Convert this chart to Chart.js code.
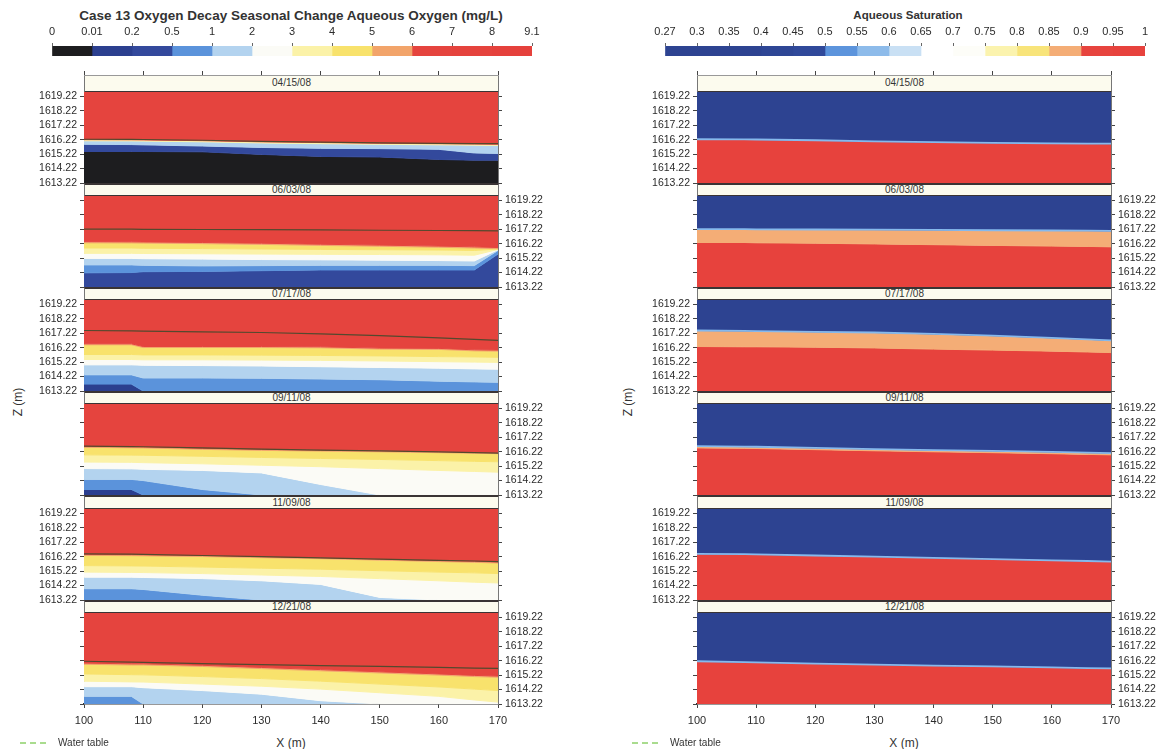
<!DOCTYPE html>
<html>
<head>
<meta charset="utf-8">
<script src="https://cdn.jsdelivr.net/npm/chart.js@4.4.1/dist/chart.umd.min.js"></script>
<style>
  body { margin: 0; background: #fff; }
  #page { position: relative; width: 1165px; height: 749px; overflow: hidden; font-family: 'Liberation Sans', Arial, sans-serif; color: #333; }
  #page canvas, #page .lbl, #page .strip { position: absolute; }
  .lbl { white-space: nowrap; }
  .strip { box-sizing: border-box; background: #fcfbee; border-left: 1px solid #777; border-right: 1px solid #777;
           border-top: 2px solid #3a3434; border-bottom: 2px solid #3a3434; text-align: center; font-size: 10px; color: #333; }
</style>
</head>
<body>
<div id="page"></div>
<script>
// sample positions along X (m) used for all layer boundaries
const X_POS = [100, 108, 110, 120, 130, 140, 150, 160, 166, 170];
const X_TICKS = [100, 110, 120, 130, 140, 150, 160, 170];
const Z_TICKS = [1613.22, 1614.22, 1615.22, 1616.22, 1617.22, 1618.22, 1619.22];
const ZMIN = 1613.22, ZMAX = 1619.52;
const DATES = ['04/15/08', '06/03/08', '07/17/08', '09/11/08', '11/09/08', '12/21/08'];

// colour scales
const O2_TICKS = ['0', '0.01', '0.2', '0.5', '1', '2', '3', '4', '5', '6', '7', '8', '9.1'];
const O2_COLORS = ['#1d1d1f', '#2b3f8f', '#33499c', '#5b93db', '#b3d3ef', '#fbfbf6',
                   '#fbf2a8', '#f8e26c', '#f2a46a', '#e5443e', '#e5433d', '#e5413c'];
const SAT_TICKS = ['0.27', '0.3', '0.35', '0.4', '0.45', '0.5', '0.55', '0.6', '0.65', '0.7',
                   '0.75', '0.8', '0.85', '0.9', '0.95', '1'];
const SAT_COLORS = ['#2d4391', '#2d4391', '#2d4391', '#2e4695', '#30499a', '#5c94dc', '#8dbbea',
                    '#c9e0f4', '#ffffff', '#fdfdf8', '#fbf3ae', '#f8e47a', '#f4ad76', '#e7443e', '#e7423d'];

// water table elevation per date
const WT_0415 = [1616.25, 1616.24, 1616.23, 1616.18, 1616.1, 1616.05, 1616.0, 1615.97, 1615.95, 1615.94];
const WT_0603 = [1617.22, 1617.22, 1617.21, 1617.2, 1617.19, 1617.17, 1617.15, 1617.13, 1617.12, 1617.1];
const WT_0717 = [1617.41, 1617.38, 1617.37, 1617.32, 1617.27, 1617.17, 1617.05, 1616.9, 1616.8, 1616.72];
const WT_0911 = [1616.6, 1616.57, 1616.56, 1616.48, 1616.4, 1616.33, 1616.27, 1616.2, 1616.15, 1616.12];
const WT_1109 = [1616.42, 1616.4, 1616.38, 1616.3, 1616.22, 1616.14, 1616.05, 1615.97, 1615.92, 1615.88];
const WT_1221 = [1616.18, 1616.12, 1616.1, 1616.02, 1615.95, 1615.88, 1615.82, 1615.75, 1615.7, 1615.68];

// aqueous oxygen: class of each layer (top to bottom) and the boundaries between them
const O2_0415_BANDS = [9, 6, 4, 2, 0];
const O2_0415_EDGES = [
  [1616.22, 1616.21, 1616.2, 1616.15, 1616.07, 1616.02, 1615.97, 1615.94, 1615.92, 1615.9],
  [1616.14, 1616.13, 1616.12, 1616.07, 1615.99, 1615.94, 1615.9, 1615.86, 1615.84, 1615.82],
  [1615.9, 1615.88, 1615.86, 1615.78, 1615.68, 1615.62, 1615.6, 1615.55, 1615.3, 1615.27],
  [1615.4, 1615.4, 1615.4, 1615.38, 1615.2, 1615.06, 1615.02, 1614.85, 1614.8, 1614.8]
];
const O2_0603_BANDS = [9, 8, 7, 6, 5, 4, 3, 2];
const O2_0603_EDGES = [
  [1616.36, 1616.35, 1616.34, 1616.3, 1616.25, 1616.18, 1616.12, 1616.05, 1616.0, 1615.95],
  [1616.28, 1616.27, 1616.26, 1616.22, 1616.17, 1616.1, 1616.04, 1615.97, 1615.92, 1615.87],
  [1615.92, 1615.92, 1615.9, 1615.88, 1615.85, 1615.82, 1615.8, 1615.78, 1615.75, 1615.85],
  [1615.55, 1615.55, 1615.54, 1615.52, 1615.5, 1615.48, 1615.47, 1615.45, 1615.42, 1615.82],
  [1615.2, 1615.2, 1615.18, 1615.15, 1615.12, 1615.1, 1615.08, 1615.05, 1615.02, 1615.8],
  [1614.75, 1614.75, 1614.72, 1614.68, 1614.7, 1614.72, 1614.72, 1614.72, 1614.7, 1615.75],
  [1614.2, 1614.22, 1614.28, 1614.3, 1614.35, 1614.4, 1614.4, 1614.4, 1614.4, 1615.5]
];
const O2_0717_BANDS = [9, 8, 7, 6, 5, 4, 3, 1];
const O2_0717_EDGES = [
  [1616.49, 1616.49, 1616.3, 1616.3, 1616.3, 1616.28, 1616.19, 1616.17, 1616.07, 1616.05],
  [1616.42, 1616.42, 1616.23, 1616.23, 1616.23, 1616.21, 1616.12, 1616.1, 1616.0, 1615.98],
  [1615.75, 1615.75, 1615.72, 1615.72, 1615.7, 1615.68, 1615.65, 1615.6, 1615.58, 1615.55],
  [1615.4, 1615.4, 1615.38, 1615.38, 1615.36, 1615.34, 1615.3, 1615.25, 1615.22, 1615.2],
  [1615.03, 1615.03, 1615.0, 1614.98, 1614.95, 1614.9, 1614.85, 1614.8, 1614.75, 1614.73],
  [1614.34, 1614.34, 1614.12, 1614.12, 1614.1, 1614.05, 1614.0, 1613.9, 1613.85, 1613.82],
  [1613.7, 1613.7, 1613.22, 1613.22, 1613.22, 1613.22, 1613.22, 1613.22, 1613.22, 1613.22]
];
const O2_0911_BANDS = [9, 8, 7, 6, 5, 4, 3, 1];
const O2_0911_EDGES = [
  [1616.59, 1616.56, 1616.55, 1616.45, 1616.38, 1616.33, 1616.28, 1616.22, 1616.18, 1616.15],
  [1616.52, 1616.49, 1616.48, 1616.38, 1616.31, 1616.26, 1616.21, 1616.15, 1616.11, 1616.08],
  [1616.0, 1615.98, 1615.97, 1615.9, 1615.82, 1615.75, 1615.68, 1615.6, 1615.55, 1615.52],
  [1615.5, 1615.48, 1615.46, 1615.38, 1615.28, 1615.18, 1615.05, 1614.92, 1614.85, 1614.8],
  [1615.05, 1615.03, 1615.0, 1614.92, 1614.75, 1613.95, 1613.22, 1613.22, 1613.22, 1613.22],
  [1614.3, 1614.3, 1614.22, 1613.6, 1613.22, 1613.22, 1613.22, 1613.22, 1613.22, 1613.22],
  [1613.6, 1613.6, 1613.22, 1613.22, 1613.22, 1613.22, 1613.22, 1613.22, 1613.22, 1613.22]
];
const O2_1109_BANDS = [9, 8, 7, 6, 5, 4, 3];
const O2_1109_EDGES = [
  [1616.38, 1616.36, 1616.35, 1616.3, 1616.22, 1616.15, 1616.05, 1615.95, 1615.9, 1615.85],
  [1616.31, 1616.29, 1616.28, 1616.23, 1616.15, 1616.08, 1615.98, 1615.88, 1615.83, 1615.78],
  [1615.6, 1615.58, 1615.57, 1615.5, 1615.42, 1615.35, 1615.25, 1615.15, 1615.1, 1615.05],
  [1615.15, 1615.13, 1615.12, 1615.05, 1614.95, 1614.85, 1614.7, 1614.55, 1614.45, 1614.4],
  [1614.8, 1614.8, 1614.78, 1614.7, 1614.55, 1614.3, 1613.4, 1613.22, 1613.22, 1613.22],
  [1614.0, 1614.0, 1613.95, 1613.55, 1613.22, 1613.22, 1613.22, 1613.22, 1613.22, 1613.22]
];
const O2_1221_BANDS = [9, 8, 7, 6, 5, 4, 3];
const O2_1221_EDGES = [
  [1616.05, 1616.0, 1616.0, 1615.9, 1615.75, 1615.6, 1615.45, 1615.3, 1615.2, 1615.15],
  [1615.97, 1615.92, 1615.92, 1615.82, 1615.67, 1615.52, 1615.37, 1615.22, 1615.12, 1615.07],
  [1615.3, 1615.25, 1615.24, 1615.12, 1614.98, 1614.8, 1614.6, 1614.4, 1614.25, 1614.15],
  [1614.8, 1614.75, 1614.74, 1614.6, 1614.45, 1614.25, 1614.0, 1613.75, 1613.5, 1613.35],
  [1614.42, 1614.42, 1614.35, 1614.15, 1613.9, 1613.45, 1613.22, 1613.22, 1613.22, 1613.22],
  [1613.75, 1613.75, 1613.22, 1613.22, 1613.22, 1613.22, 1613.22, 1613.22, 1613.22, 1613.22]
];

// aqueous saturation layers
const SAT_0415_BANDS = [0, 14];
const SAT_0415_EDGES = [WT_0415];
const SAT_0603_BANDS = [0, 12, 14];
const SAT_0603_EDGES = [WT_0603,
  [1616.3, 1616.3, 1616.28, 1616.25, 1616.2, 1616.15, 1616.1, 1616.05, 1616.03, 1616.0]];
const SAT_0717_BANDS = [0, 12, 14];
const SAT_0717_EDGES = [WT_0717,
  [1616.3, 1616.28, 1616.28, 1616.25, 1616.2, 1616.12, 1616.05, 1615.98, 1615.92, 1615.88]];
const SAT_0911_BANDS = [0, 12, 14];
const SAT_0911_EDGES = [WT_0911,
  [1616.48, 1616.45, 1616.44, 1616.36, 1616.28, 1616.21, 1616.15, 1616.08, 1616.03, 1616.0]];
const SAT_1109_BANDS = [0, 14];
const SAT_1109_EDGES = [WT_1109];
const SAT_1221_BANDS = [0, 14];
const SAT_1221_EDGES = [WT_1221];

const WATER_TABLES = [WT_0415, WT_0603, WT_0717, WT_0911, WT_1109, WT_1221];
const O2_LAYERS = [
  [O2_0415_EDGES, O2_0415_BANDS], [O2_0603_EDGES, O2_0603_BANDS], [O2_0717_EDGES, O2_0717_BANDS],
  [O2_0911_EDGES, O2_0911_BANDS], [O2_1109_EDGES, O2_1109_BANDS], [O2_1221_EDGES, O2_1221_BANDS]
];
const SAT_LAYERS = [
  [SAT_0415_EDGES, SAT_0415_BANDS], [SAT_0603_EDGES, SAT_0603_BANDS], [SAT_0717_EDGES, SAT_0717_BANDS],
  [SAT_0911_EDGES, SAT_0911_BANDS], [SAT_1109_EDGES, SAT_1109_BANDS], [SAT_1221_EDGES, SAT_1221_BANDS]
];

// page layout
const PLOT_W = 414, PLOT_H = 91;
const PLOT_TOPS = [92, 196, 300, 404, 509, 613];
const AXIS_TOP = 75;

Chart.defaults.font.family = "'Liberation Sans', Arial, sans-serif";
Chart.defaults.color = '#2b2b2b';
Chart.defaults.animation = false;

const page = document.getElementById('page');

function addLabel(text, left, top, css) {
  const el = document.createElement('div');
  el.className = 'lbl';
  el.textContent = text;
  el.style.left = left + 'px';
  el.style.top = top + 'px';
  Object.assign(el.style, css || {});
  page.appendChild(el);
  return el;
}

function addCanvas(left, top, width, height) {
  const c = document.createElement('canvas');
  c.width = width;
  c.height = height;
  c.style.left = left + 'px';
  c.style.top = top + 'px';
  c.style.width = width + 'px';
  c.style.height = height + 'px';
  page.appendChild(c);
  return c;
}

function toPoints(values) {
  return X_POS.map((x, k) => ({ x: x, y: values[k] }));
}

function zAxis(position, showLabels) {
  return {
    type: 'linear',
    position: position,
    min: ZMIN,
    max: ZMAX,
    afterBuildTicks: s => { s.ticks = Z_TICKS.map(v => ({ value: v })); },
    afterFit: s => { s.width = 50; s.paddingTop = 0; s.paddingBottom = 0; },
    ticks: {
      autoSkip: false,
      padding: 3,
      font: { size: 10.5 },
      callback: v => showLabels ? v.toFixed(2) : ''
    },
    grid: { drawOnChartArea: false, tickLength: 4, color: '#444' },
    border: { display: true, color: '#777', width: 1 }
  };
}

function xAxis(position, showLabels) {
  return {
    type: 'linear',
    position: position,
    min: 100,
    max: 170,
    afterBuildTicks: s => { s.ticks = X_TICKS.map(v => ({ value: v })); },
    afterFit: s => { s.height = showLabels ? 28 : 15; },
    ticks: {
      autoSkip: false,
      maxRotation: 0,
      padding: 6,
      font: { size: 11 },
      callback: v => showLabels ? String(v) : ''
    },
    grid: { drawOnChartArea: false, tickLength: 4, color: '#444' },
    border: { display: true, color: showLabels ? '#333' : '#999', width: showLabels ? 1.5 : 1 }
  };
}

function drawPanel(x0, top, layers, colors, wt, wtStyle, labelsLeft, lastRow) {
  const edges = layers[0], bands = layers[1];
  const datasets = [];
  edges.forEach((edge, i) => {
    datasets.push({
      data: toPoints(edge),
      fill: i === 0 ? 'end' : '-1',
      backgroundColor: colors[bands[i]],
      borderColor: colors[bands[i]],
      borderWidth: 1,
      pointRadius: 0
    });
  });
  datasets.push({
    data: toPoints(edges[edges.length - 1]),
    fill: 'start',
    backgroundColor: colors[bands[bands.length - 1]],
    borderColor: colors[bands[bands.length - 1]],
    borderWidth: 0,
    pointRadius: 0
  });
  // water table on top of the layers
  datasets.push({
    data: toPoints(wt),
    fill: false,
    borderColor: wtStyle.color,
    borderWidth: wtStyle.width,
    pointRadius: 0,
    order: -1
  });

  const extra = lastRow ? 28 : 8;
  const canvas = addCanvas(x0 - 50, top - 8, PLOT_W + 100, PLOT_H + 8 + extra);
  const scales = {
    x: lastRow ? xAxis('bottom', true) : { type: 'linear', min: 100, max: 170, display: false },
    y: zAxis('left', labelsLeft),
    y2: zAxis('right', !labelsLeft)
  };
  new Chart(canvas, {
    type: 'line',
    data: { datasets: datasets },
    options: {
      responsive: false,
      layout: { padding: { top: 8, bottom: lastRow ? 0 : 8 } },
      elements: { line: { tension: 0 } },
      plugins: { legend: { display: false }, tooltip: { enabled: false } },
      scales: scales
    }
  });
}

function drawTopAxis(x0) {
  const canvas = addCanvas(x0 - 12, AXIS_TOP - 15, PLOT_W + 24, 17);
  new Chart(canvas, {
    type: 'line',
    data: { datasets: [] },
    options: {
      responsive: false,
      layout: { padding: { left: 12, right: 12 } },
      plugins: { legend: { display: false }, tooltip: { enabled: false } },
      scales: { x: xAxis('top', false), y: { display: false, min: 0, max: 1 } }
    }
  });
}

function drawColorbar(left, width, ticks, colors) {
  const canvas = addCanvas(left - 22, 26, width + 44, 30);
  new Chart(canvas, {
    type: 'bar',
    data: {
      labels: [''],
      datasets: colors.map(c => ({
        data: [1], backgroundColor: c, borderWidth: 0, barPercentage: 1, categoryPercentage: 1
      }))
    },
    options: {
      indexAxis: 'y',
      responsive: false,
      layout: { padding: { left: 22, right: 22 } },
      plugins: { legend: { display: false }, tooltip: { enabled: false } },
      scales: {
        x: {
          stacked: true,
          position: 'top',
          min: 0,
          max: colors.length,
          afterBuildTicks: s => { s.ticks = ticks.map((t, i) => ({ value: i })); },
          afterFit: s => { s.height = 20; },
          ticks: { autoSkip: false, maxRotation: 0, padding: 4, font: { size: 11 }, callback: (v, i) => ticks[i] },
          grid: { drawOnChartArea: false, tickLength: 3, color: '#666' },
          border: { display: false }
        },
        y: { stacked: true, display: false }
      }
    }
  });
}

function drawColumn(x0, layersList, colors, wtStyle) {
  drawTopAxis(x0);
  PLOT_TOPS.forEach((top, i) => {
    const stripTop = i === 0 ? AXIS_TOP + 1 : PLOT_TOPS[i - 1] + PLOT_H;
    const strip = addLabel(DATES[i], x0, stripTop, {});
    strip.className = 'strip';
    strip.style.width = (PLOT_W + 1) + 'px';
    strip.style.height = (top - stripTop + 1) + 'px';
    strip.style.lineHeight = (top - stripTop - 3) + 'px';
    if (i === 0) strip.style.borderTop = 'none';
    drawPanel(x0, top, layersList[i], colors, WATER_TABLES[i], wtStyle, i % 2 === 0, i === PLOT_TOPS.length - 1);
  });
}

// left column: aqueous oxygen
drawColorbar(52, 480, O2_TICKS, O2_COLORS);
addLabel('Case 13 Oxygen Decay Seasonal Change Aqueous Oxygen (mg/L)', 291, 8,
  { fontWeight: 'bold', fontSize: '13.5px', transform: 'translateX(-50%)' });
drawColumn(84, O2_LAYERS, O2_COLORS, { color: '#54492e', width: 1.2 });

// right column: aqueous saturation
drawColorbar(665, 480, SAT_TICKS, SAT_COLORS);
addLabel('Aqueous Saturation', 908, 9,
  { fontWeight: 'bold', fontSize: '11.5px', transform: 'translateX(-50%)' });
drawColumn(697, SAT_LAYERS, SAT_COLORS, { color: '#86b9ec', width: 1.8 });

// axis titles and legends
[[18, 84], [628, 697]].forEach(([zx, x0]) => {
  addLabel('Z (m)', zx, 402, { fontSize: '12px', transform: 'translate(-50%, -50%) rotate(-90deg)' });
  addLabel('X (m)', x0 + PLOT_W / 2, 736, { fontSize: '12px', transform: 'translateX(-50%)' });
});
[[20, 58], [632, 670]].forEach(([lx, tx]) => {
  addLabel('', lx, 742, { width: '26px', height: '0', borderTop: '2px dashed #a9dc8e' });
  addLabel('Water table', tx, 737, { fontSize: '10px' });
});
</script>
</body>
</html>
